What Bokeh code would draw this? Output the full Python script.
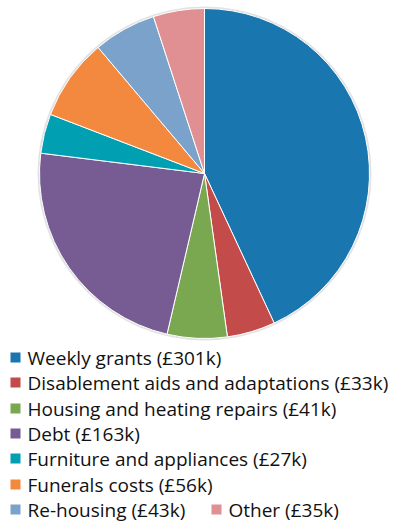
import math
from bokeh.plotting import figure
from bokeh.models import ColumnDataSource
from bokeh.core.properties import value
from bokeh.embed import file_html
from bokeh.resources import INLINE

categories = ["Weekly grants", "Disablement aids and adaptations", "Housing and heating repairs",
              "Debt", "Furniture and appliances", "Funerals costs", "Re-housing", "Other"]
values_k = [301, 33, 41, 163, 27, 56, 43, 35]
colors = ["#1a76ae", "#c34b49", "#7aa851", "#775c94", "#00a0b2", "#f2893f", "#7ba2ca", "#e09092"]

W, H = 405, 524
p = figure(width=W, height=H, x_range=(0, W), y_range=(0, H), output_backend="svg",
           toolbar_location=None, min_border=0)
p.axis.visible = False
p.grid.visible = False
p.outline_line_color = None
p.background_fill_color = "white"

total = sum(values_k)
starts, ends = [], []
cum = 0
for v in values_k:
    starts.append(math.pi / 2 - cum / total * 2 * math.pi)
    cum += v
    ends.append(math.pi / 2 - cum / total * 2 * math.pi)

cx, cy, r = 204, H - 173, 165
p.circle(x=[cx], y=[cy], radius=r + 2, fill_color="#cfcfcf", fill_alpha=0.6, line_color=None)
src = ColumnDataSource(dict(start=starts, end=ends, color=colors))
p.wedge(x=cx, y=cy, radius=r, start_angle="start", end_angle="end", direction="clock",
        fill_color="color", line_color="white", line_width=1, source=src)

labels = [f"{c} (£{v}k)" for c, v in zip(categories, values_k)]
# legend layout: first six rows one per line, last two share a row
lx = [15, 15, 15, 15, 15, 15, 15, 216]
ly = [357, 382, 408, 433, 458, 484, 509, 509]
ly = [H - y for y in ly]
p.rect(x=lx, y=ly, width=10, height=10, fill_color=colors, line_color=None)
p.text(x=[x + 12 for x in lx], y=ly, text=labels, text_font=value("Open Sans"), text_font_size="19px",
       text_baseline="middle", text_align="left", text_color="#111111")

open("out.html", "w").write(file_html(p, INLINE))
